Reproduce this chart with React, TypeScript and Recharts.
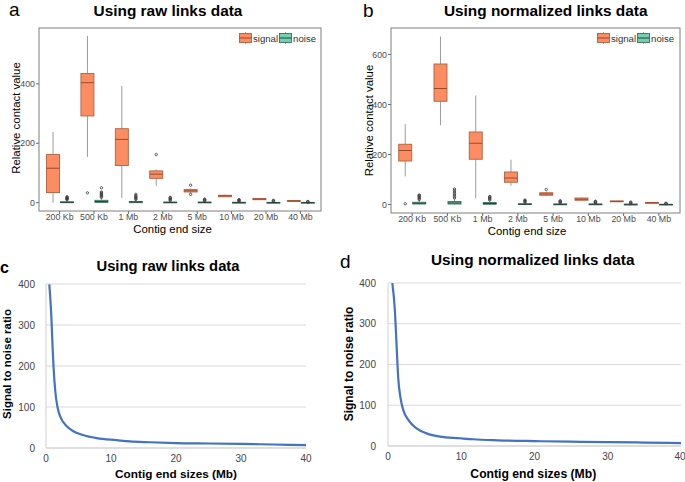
import React from 'react';
import { ComposedChart, Bar, XAxis, YAxis, Legend, LineChart, Line, CartesianGrid } from 'recharts';

const FONT = "'Liberation Sans', Arial, Helvetica, sans-serif";

// ---------- Panel a/b data (boxplots) ----------
const categories = ['200 Kb', '500 Kb', '1 Mb', '2 Mb', '5 Mb', '10 Mb', '20 Mb', '40 Mb'];

// [whiskerLow, q1, median, q3, whiskerHigh]
const rawSignalStats = [
  [0, 34, 116, 162, 238],
  [154, 292, 404, 435, 561],
  [16, 125, 213, 249, 393],
  [57, 82, 96, 107, 112],
  [33, 36, 40, 44, 48],
  [19, 20, 23, 25, 27],
  [9, 10, 12, 14, 15],
  [4, 5, 6, 7, 8],
];
const rawSignalOutliers = [[], [33], [], [162], [28, 59], [], [], []];
const rawNoiseStats = [
  [0, 0, 1, 3, 8],
  [0, 1, 4, 8, 16],
  [0, 0, 2, 4, 9],
  [0, 0, 1, 2, 5],
  [0, 0, 1, 2, 4],
  [0, 0, 1, 1, 3],
  [0, 0, 0, 1, 2],
  [0, 0, 0, 1, 1],
];
const rawNoiseOutliers = [
  [10, 12, 14, 16, 18, 20],
  [18, 21, 24, 27, 30, 33, 36, 50],
  [11, 14, 17, 20, 24, 28],
  [7, 10, 13, 16, 18],
  [6, 8, 10, 12],
  [5, 7, 9, 10],
  [4, 6, 8],
  [2, 3, 4],
];

const normSignalStats = [
  [113, 174, 216, 241, 322],
  [317, 413, 464, 562, 672],
  [25, 181, 245, 290, 436],
  [75, 89, 106, 130, 179],
  [34, 37, 42, 47, 52],
  [16, 17, 21, 26, 28],
  [10, 11, 13, 14, 15],
  [6, 7, 7, 8, 9],
];
const normSignalOutliers = [[3], [], [], [], [60], [], [], []];
const normNoiseStats = [
  [0, 2, 5, 9, 18],
  [0, 2, 6, 12, 24],
  [0, 1, 4, 8, 16],
  [0, 0, 1, 3, 7],
  [0, 0, 1, 2, 5],
  [0, 0, 1, 2, 4],
  [0, 0, 1, 1, 3],
  [0, 0, 0, 1, 2],
];
const normNoiseOutliers = [
  [20, 24, 28, 32, 36, 38],
  [26, 32, 38, 44, 50, 56, 62],
  [18, 22, 26, 30, 32],
  [9, 12, 15, 18],
  [7, 10, 13, 15],
  [6, 9, 11, 13],
  [4, 7, 10],
  [3, 4, 5],
];

const rawTicks = [0, 200, 400];
const normTicks = [0, 200, 400, 600];
const seriesNames = ['signal', 'noise'];

// ---------- Panel c/d data (signal to noise curves) ----------
const snrRawX = [0.51, 0.81, 1.02, 1.17, 1.43, 1.79, 2.3, 3.2, 4.2, 5.8, 7.8, 10.9, 12.9, 16, 20, 25, 30, 35, 40];
const snrRawY = [399, 325, 244, 195, 138, 98, 73, 53, 41, 31, 24, 19, 16, 14, 12, 11, 10, 8.5, 7];
const snrNormX = [0.59, 0.95, 1.17, 1.4, 1.72, 2.09, 2.77, 3.9, 5.27, 7.1, 9.8, 11.6, 15, 20, 25, 30, 35, 40];
const snrNormY = [400, 330, 248, 166, 117, 88, 64, 43, 31, 23, 19, 16.5, 14, 12, 10.5, 9.5, 8.5, 7];
const snrXTicks = [0, 10, 20, 30, 40];
const snrYTicks = [0, 100, 200, 300, 400];

const COLORS = {
  signalFill: '#FC8D62',
  signalStroke: '#B0613F',
  signalMedian: '#9A4A2A',
  noiseFill: '#72D0AE',
  noiseStroke: '#3E6E5E',
  noiseMedian: '#24463B',
  whisker: '#8E8E8E',
};

function toStat(arr: number[], outs: number[]) {
  return { wLo: arr[0], q1: arr[1], med: arr[2], q3: arr[3], wHi: arr[4], outliers: outs };
}
function rangeOf(s: any): [number, number] {
  const lo = Math.min(s.wLo, ...s.outliers);
  const hi = Math.max(s.wHi, ...s.outliers);
  return [lo, hi];
}
function buildTable(sS: number[][], sO: number[][], nS: number[][], nO: number[][]) {
  return categories.map((cat, i) => {
    const signal = toStat(sS[i], sO[i]);
    const noise = toStat(nS[i], nO[i]);
    return { cat, signal, noise, signalRange: rangeOf(signal), noiseRange: rangeOf(noise) };
  });
}
const rawTable = buildTable(rawSignalStats, rawSignalOutliers, rawNoiseStats, rawNoiseOutliers);
const normTable = buildTable(normSignalStats, normSignalOutliers, normNoiseStats, normNoiseOutliers);
const rawCurve = snrRawX.map((x, i) => ({ x, y: snrRawY[i] }));
const normCurve = snrNormX.map((x, i) => ({ x, y: snrNormY[i] }));

function makeBoxShape(key: 'signal' | 'noise') {
  const stroke = key === 'signal' ? COLORS.signalStroke : COLORS.noiseStroke;
  const med = key === 'signal' ? COLORS.signalMedian : COLORS.noiseMedian;
  const fill = key === 'signal' ? COLORS.signalFill : COLORS.noiseFill;
  return (props: any) => {
    const { x, y, width, height, payload } = props;
    if (!payload || x == null || y == null) return <g />;
    const s = payload[key];
    const [lo, hi] = payload[key + 'Range'];
    const h = height || 0;
    const top = Math.min(y, y + h);
    const bot = Math.max(y, y + h);
    const toPx = (v: number) => (hi === lo ? top : top + ((hi - v) / (hi - lo)) * (bot - top));
    const cx = x + width / 2;
    const yq3 = toPx(s.q3);
    const yq1 = toPx(s.q1);
    const bh = Math.max(yq1 - yq3, 0.8);
    return (
      <g>
        <line x1={cx} x2={cx} y1={toPx(s.wHi)} y2={yq3} stroke={COLORS.whisker} strokeWidth={0.9} />
        <line x1={cx} x2={cx} y1={yq1} y2={toPx(s.wLo)} stroke={COLORS.whisker} strokeWidth={0.9} />
        <rect x={x} y={yq3} width={width} height={bh} fill={fill} stroke={stroke} strokeWidth={0.9} />
        <line x1={x} x2={x + width} y1={toPx(s.med)} y2={toPx(s.med)} stroke={med} strokeWidth={1} />
        {s.outliers.map((o: number, i: number) => (
          <circle key={i} cx={cx} cy={toPx(o)} r={1.2} fill="none" stroke="#3a3a3a" strokeWidth={0.8} />
        ))}
      </g>
    );
  };
}

const LegendIcon = ({ fill, stroke, med }: any) => (
  <svg width={13} height={12} style={{ display: 'block' }}>
    <line x1={6.5} x2={6.5} y1={0} y2={12} stroke={COLORS.whisker} strokeWidth={0.8} />
    <rect x={0.5} y={1.5} width={12} height={9} fill={fill} stroke={stroke} strokeWidth={0.9} />
    <line x1={0.5} x2={12.5} y1={6} y2={6} stroke={med} strokeWidth={1} />
  </svg>
);

const BoxLegend = (props: any) => {
  const payload = [...(props.payload || [])].sort(
    (a: any, b: any) => seriesNames.indexOf(a.value) - seriesNames.indexOf(b.value)
  );
  return (
    <div style={{ display: 'flex', alignItems: 'center', fontFamily: FONT, fontSize: 9.6, color: '#333', whiteSpace: 'nowrap' }}>
      {payload.map((p: any) => {
        const isSig = p.value === 'signal';
        return (
          <span key={p.value} style={{ display: 'flex', alignItems: 'center', marginRight: 1 }}>
            <LegendIcon
              fill={isSig ? COLORS.signalFill : COLORS.noiseFill}
              stroke={isSig ? COLORS.signalStroke : COLORS.noiseStroke}
              med={isSig ? COLORS.signalMedian : COLORS.noiseMedian}
            />
            <span style={{ marginLeft: 1 }}>{p.value}</span>
          </span>
        );
      })}
    </div>
  );
};

const tickStyleBox = { fontFamily: FONT, fontSize: 8.8, fill: '#4D4D4D' };

function BoxPanel(p: any) {
  return (
    <div style={{ position: 'absolute', left: p.left, top: p.top }}>
      <ComposedChart
        width={p.width}
        height={p.height}
        data={p.data}
        margin={p.margin}
        barCategoryGap="12%"
        barGap={1}
      >
        <XAxis
          dataKey="cat"
          padding={{ left: p.pad, right: p.pad }}
          axisLine={false}
          tickLine={{ stroke: '#666' }}
          tickSize={3}
          tickMargin={0}
          height={p.xAxisHeight}
          interval={0}
          tick={tickStyleBox}
        />
        <YAxis
          type="number"
          domain={p.domain}
          ticks={p.ticks}
          allowDataOverflow
          axisLine={false}
          tickLine={{ stroke: '#666' }}
          tickSize={3}
          tickMargin={1}
          width={p.yAxisWidth}
          tick={tickStyleBox}
        />
        <Legend
          layout="horizontal"
          verticalAlign="middle"
          align="center"
          content={<BoxLegend />}
          wrapperStyle={{ position: 'absolute', left: p.legendLeft, top: p.legendTop, width: 'auto' }}
        />
        <Bar dataKey="signalRange" name="signal" fill={COLORS.signalFill} shape={makeBoxShape('signal')} isAnimationActive={false} />
        <Bar dataKey="noiseRange" name="noise" fill={COLORS.noiseFill} shape={makeBoxShape('noise')} isAnimationActive={false} />
      </ComposedChart>
    </div>
  );
}

const tickStyleLine = { fontFamily: FONT, fontSize: 10, fill: '#444' };

function CurvePanel(p: any) {
  return (
    <div style={{ position: 'absolute', left: p.left, top: p.top }}>
      <LineChart width={p.width} height={p.height} data={p.data} margin={p.margin}>
        <CartesianGrid vertical={false} stroke="#D9D9D9" strokeWidth={1} />
        <XAxis
          type="number"
          dataKey="x"
          domain={[0, 40]}
          ticks={snrXTicks}
          allowDataOverflow
          axisLine={{ stroke: '#D0D0D0' }}
          tickLine={false}
          tickSize={0}
          tickMargin={7}
          height={20}
          tick={tickStyleLine}
        />
        <YAxis
          type="number"
          domain={[0, 400]}
          ticks={snrYTicks}
          allowDataOverflow
          axisLine={{ stroke: '#D0D0D0' }}
          tickLine={false}
          tickSize={0}
          tickMargin={p.yTickMargin}
          width={p.yAxisWidth}
          tick={tickStyleLine}
        />
        <Line type="monotone" dataKey="y" stroke="#4472C4" strokeWidth={2.2} dot={false} isAnimationActive={false} />
      </LineChart>
    </div>
  );
}

export default function App() {
  return (
    <div style={{ position: 'absolute', left: 0, top: 0, width: 685, height: 482, background: '#fff', overflow: 'hidden' }}>
      <BoxPanel
        left={0}
        top={0}
        width={335}
        height={240}
        data={rawTable}
        margin={{ top: 28, right: 14, bottom: 0, left: 0 }}
        yAxisWidth={39}
        xAxisHeight={29}
        pad={3.4}
        domain={[-28, 588]}
        ticks={rawTicks}
        legendLeft={239}
        legendTop={32}
      />
      <BoxPanel
        left={340}
        top={0}
        width={345}
        height={240}
        data={normTable}
        margin={{ top: 28, right: 5, bottom: 0, left: 0 }}
        yAxisWidth={51}
        xAxisHeight={27}
        pad={3.5}
        domain={[-34, 706]}
        ticks={normTicks}
        legendLeft={257}
        legendTop={32}
      />
      <CurvePanel
        left={0}
        top={240}
        width={330}
        height={242}
        data={rawCurve}
        margin={{ top: 44, right: 24, bottom: 14, left: 14 }}
        yAxisWidth={32}
        yTickMargin={11}
      />
      <CurvePanel
        left={340}
        top={240}
        width={345}
        height={242}
        data={normCurve}
        margin={{ top: 43, right: 4, bottom: 16, left: 14 }}
        yAxisWidth={34}
        yTickMargin={12}
      />
      <svg width={685} height={482} style={{ position: 'absolute', left: 0, top: 0, pointerEvents: 'none' }}>
        <g fontFamily={FONT}>
          {/* panel frames for a and b */}
          <rect x={39} y={28} width={282} height={183} fill="none" stroke="#7F7F7F" strokeWidth={1} />
          <rect x={391} y={28} width={289} height={185} fill="none" stroke="#7F7F7F" strokeWidth={1} />

          <text x={9} y={16} fontSize={19} fill="#000">a</text>
          <text x={168} y={16} fontSize={15.4} fontWeight="bold" textAnchor="middle" fill="#000">Using raw links data</text>
          <text x={20} y={118} fontSize={11.4} textAnchor="middle" fill="#000" transform="rotate(-90 20 118)">Relative contact value</text>
          <text x={172.5} y={233} fontSize={11.4} textAnchor="middle" fill="#000">Contig end size</text>

          <text x={363} y={16.5} fontSize={19} fill="#000">b</text>
          <text x={545.7} y={16} fontSize={15.4} fontWeight="bold" textAnchor="middle" fill="#000">Using normalized links data</text>
          <text x={373} y={120.5} fontSize={11.4} textAnchor="middle" fill="#000" transform="rotate(-90 373 120.5)">Relative contact value</text>
          <text x={527} y={234.5} fontSize={11.4} textAnchor="middle" fill="#000">Contig end size</text>

          <text x={0} y={273} fontSize={16} fontWeight="bold" fill="#000">c</text>
          <text x={168} y={271} fontSize={14.8} fontWeight="bold" textAnchor="middle" fill="#000">Using raw links data</text>
          <text x={10.5} y={364} fontSize={11.5} fontWeight="bold" textAnchor="middle" fill="#000" transform="rotate(-90 10.5 364)">Signal to noise ratio</text>
          <text x={176} y={478} fontSize={11.8} fontWeight="bold" textAnchor="middle" fill="#000">Contig end sizes (Mb)</text>

          <text x={340} y={268} fontSize={19} fill="#000">d</text>
          <text x={532.7} y={265} fontSize={15.4} fontWeight="bold" textAnchor="middle" fill="#000">Using normalized links data</text>
          <text x={353} y={364} fontSize={12} fontWeight="bold" textAnchor="middle" fill="#000" transform="rotate(-90 353 364)">Signal to noise ratio</text>
          <text x={533.3} y={477.5} fontSize={12.2} fontWeight="bold" textAnchor="middle" fill="#000">Contig end sizes (Mb)</text>
        </g>
      </svg>
    </div>
  );
}
